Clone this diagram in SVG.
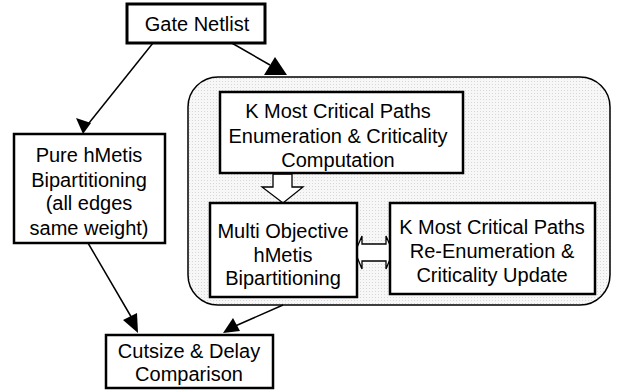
<svg xmlns="http://www.w3.org/2000/svg" width="621" height="392" viewBox="0 0 621 392">
<style>
text{font-family:"Liberation Sans",Arial,sans-serif;font-size:20px;fill:#000;text-anchor:middle}
.box{fill:#fff;stroke:#000;stroke-width:2.5}
.edge{fill:none;stroke:#000;stroke-width:1.5}
.blk{fill:#fff;stroke:#000;stroke-width:1.3}
</style>
<defs>
<pattern id="dots" width="3" height="3" patternUnits="userSpaceOnUse">
<rect width="3" height="3" fill="#f7f7f7"/>
<rect width="1" height="1" fill="#d8d8d8"/>
</pattern>
</defs>
<g id="container">
<rect x="188" y="77" width="422" height="228" rx="30" ry="30" fill="url(#dots)" stroke="#000" stroke-width="1.5"/>
</g>
<g id="connectors">
<line class="edge" x1="153" y1="43" x2="85" y2="128"/>
<path d="M83,134 L76,118 L91,123 Z"/>
<line class="edge" x1="230" y1="42" x2="270" y2="65"/>
<path d="M275,57 L264,75 L287,75 Z"/>
<line class="edge" x1="88" y1="243" x2="133" y2="320"/>
<path d="M138,333 L123,320 L137,313 Z"/>
<line class="edge" x1="283" y1="305" x2="233" y2="327"/>
<path d="M223,333 L233,318 L240,331 Z"/>
<path class="blk" d="M273,174 L292,174 L292,187 L303,187 L283,203 L262,187 L273,187 Z"/>
<path class="blk" d="M355,252 L362,236 L362,244 L386,244 L386,236 L393,252 L386,269 L386,261 L362,261 L362,269 Z"/>
</g>
<g id="gate-netlist">
<rect x="127" y="4" width="138" height="39" fill="#fff" stroke="#000" stroke-width="3"/>
<text x="197" y="31">Gate Netlist</text>
</g>
<g id="k-most-enum">
<rect class="box" x="220" y="92" width="243" height="81"/>
<text x="338" y="118">K Most Critical Paths</text>
<text x="338" y="143">Enumeration &amp; Criticality</text>
<text x="338" y="167">Computation</text>
</g>
<g id="multi-objective">
<rect class="box" x="210" y="203" width="147" height="94"/>
<text x="283" y="238">Multi Objective</text>
<text x="283" y="262">hMetis</text>
<text x="283" y="285">Bipartitioning</text>
</g>
<g id="k-most-reenum">
<rect class="box" x="390" y="203" width="205" height="91"/>
<text x="492" y="234">K Most Critical Paths</text>
<text x="492" y="258">Re-Enumeration &amp;</text>
<text x="492" y="282">Criticality Update</text>
</g>
<g id="pure-hmetis">
<rect class="box" x="14" y="134" width="151" height="109"/>
<text x="89" y="162">Pure hMetis</text>
<text x="89" y="187">Bipartitioning</text>
<text x="89" y="210">(all edges</text>
<text x="89" y="235">same  weight)</text>
</g>
<g id="cutsize">
<rect class="box" x="106" y="335" width="167" height="53"/>
<text x="189" y="358">Cutsize &amp; Delay</text>
<text x="189" y="381">Comparison</text>
</g>
</svg>
